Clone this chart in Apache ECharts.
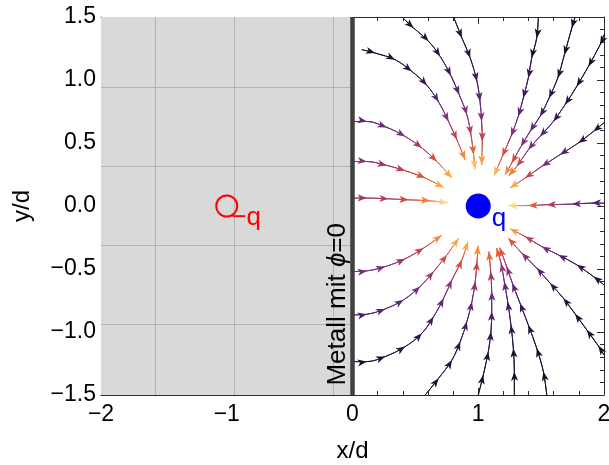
<!DOCTYPE html>
<html>
<head>
<meta charset="utf-8">
<script src="https://cdn.jsdelivr.net/npm/echarts@6/dist/echarts.min.js"></script>
<style>
  html, body { margin: 0; padding: 0; background: #fff; }
  #main { width: 609px; height: 465px; }
</style>
</head>
<body>
<div id="main"></div>
<script>
const xTicks = [-2, -1, 0, 1, 2];
const xTickLabels = ['\u22122', '\u22121', '0', '1', '2'];
const yTicks = [-1.5, -1, -0.5, 0, 0.5, 1, 1.5];
const yTickLabels = ['\u22121.5', '\u22121.0', '\u22120.5', '0.0', '0.5', '1.0', '1.5'];

const chargeQ = [1, 0];
const imageQ = [-1, 0];
const metalGridX = [-1.571, -0.942, -0.157];
const metalGridY = [-0.942, -0.314, 0.314, 0.942];

// stream lines: [x/d, y/d, colour level 0..1]
const lineU1 = [[0.393, 1.500, 0.10], [0.486, 1.413, 0.11], [0.605, 1.307, 0.13], [0.697, 1.187, 0.16], [0.783, 1.034, 0.21], [0.849, 0.883, 0.29], [0.910, 0.724, 0.40], [0.942, 0.566, 0.52], [0.963, 0.407, 0.66], [0.973, 0.290, 0.85]];
const lineL2 = [[0.074, 1.241, 0.10], [0.180, 1.214, 0.10], [0.339, 1.161, 0.12], [0.472, 1.068, 0.15], [0.592, 0.957, 0.20], [0.685, 0.825, 0.28], [0.764, 0.671, 0.40], [0.830, 0.526, 0.55], [0.896, 0.367, 0.74]];
const lineB = [[0.804, 1.500, 0.10], [0.870, 1.334, 0.12], [0.936, 1.175, 0.15], [0.990, 0.989, 0.21], [1.014, 0.830, 0.29], [1.027, 0.671, 0.40], [1.032, 0.512, 0.55], [1.027, 0.327, 0.78]];
const lineW3 = [[0.010, 0.671, 0.30], [0.114, 0.671, 0.30], [0.273, 0.624, 0.33], [0.419, 0.552, 0.38], [0.552, 0.460, 0.47], [0.671, 0.353, 0.60], [0.791, 0.222, 0.80]];
const lineW2 = [[0.010, 0.353, 0.40], [0.114, 0.353, 0.41], [0.273, 0.322, 0.46], [0.419, 0.280, 0.52], [0.578, 0.222, 0.62], [0.725, 0.147, 0.80]];
const lineW1 = [[0.010, 0.063, 0.45], [0.114, 0.063, 0.46], [0.287, 0.057, 0.50], [0.446, 0.049, 0.58], [0.618, 0.041, 0.72], [0.759, 0.025, 0.90]];
const lineR1 = [[1.478, 1.500, 0.07], [1.465, 1.334, 0.09], [1.425, 1.175, 0.12], [1.398, 1.016, 0.16], [1.358, 0.857, 0.22], [1.318, 0.711, 0.30], [1.260, 0.552, 0.42], [1.191, 0.393, 0.60], [1.127, 0.242, 0.82]];
const lineR2 = [[1.770, 1.500, 0.06], [1.744, 1.413, 0.07], [1.685, 1.201, 0.09], [1.632, 1.016, 0.12], [1.563, 0.857, 0.16], [1.491, 0.711, 0.22], [1.412, 0.592, 0.30], [1.340, 0.473, 0.40], [1.266, 0.341, 0.58], [1.213, 0.248, 0.75]];
const lineR3 = [[2.000, 1.360, 0.06], [1.969, 1.280, 0.07], [1.876, 1.108, 0.08], [1.783, 0.949, 0.10], [1.690, 0.804, 0.14], [1.597, 0.671, 0.20], [1.491, 0.552, 0.28], [1.398, 0.446, 0.38], [1.306, 0.314, 0.56], [1.244, 0.240, 0.73]];
const lineR4 = [[2.000, 0.661, 0.10], [1.916, 0.592, 0.13], [1.796, 0.500, 0.18], [1.650, 0.407, 0.27], [1.505, 0.314, 0.38], [1.372, 0.222, 0.56], [1.252, 0.142, 0.80]];
const lineR5 = [[2.000, 0.023, 0.22], [1.903, 0.023, 0.27], [1.744, 0.015, 0.35], [1.545, 0.010, 0.50], [1.398, 0.004, 0.65], [1.236, 0.002, 0.90]];
const lineD1 = [[0.010, -0.520, 0.35], [0.114, -0.515, 0.36], [0.260, -0.481, 0.39], [0.419, -0.419, 0.45], [0.565, -0.334, 0.55], [0.710, -0.233, 0.75]];
const lineD2 = [[0.010, -0.864, 0.24], [0.114, -0.859, 0.25], [0.260, -0.817, 0.28], [0.406, -0.745, 0.31], [0.538, -0.639, 0.38], [0.645, -0.520, 0.46], [0.751, -0.388, 0.60], [0.844, -0.255, 0.80]];
const lineD3 = [[0.010, -1.235, 0.10], [0.114, -1.235, 0.11], [0.260, -1.195, 0.12], [0.419, -1.116, 0.15], [0.552, -1.010, 0.18], [0.645, -0.878, 0.23], [0.725, -0.732, 0.32], [0.791, -0.586, 0.43], [0.870, -0.427, 0.60], [0.918, -0.284, 0.80]];
const lineD4 = [[0.578, -1.500, 0.09], [0.685, -1.367, 0.11], [0.791, -1.222, 0.13], [0.857, -1.076, 0.17], [0.910, -0.917, 0.23], [0.950, -0.759, 0.31], [0.976, -0.600, 0.42], [0.990, -0.441, 0.57], [0.998, -0.316, 0.75]];
const lineE1 = [[1.000, -1.500, 0.08], [1.040, -1.341, 0.10], [1.080, -1.156, 0.13], [1.101, -0.997, 0.18], [1.107, -0.838, 0.25], [1.107, -0.679, 0.34], [1.099, -0.520, 0.47], [1.085, -0.361, 0.67]];
const lineE2 = [[1.287, -1.500, 0.07], [1.287, -1.315, 0.08], [1.279, -1.129, 0.11], [1.260, -0.944, 0.16], [1.234, -0.759, 0.23], [1.207, -0.600, 0.33], [1.181, -0.454, 0.45], [1.146, -0.334, 0.65]];
const lineE3 = [[1.545, -1.500, 0.06], [1.518, -1.315, 0.07], [1.465, -1.129, 0.09], [1.398, -0.944, 0.13], [1.332, -0.771, 0.20], [1.271, -0.612, 0.30], [1.226, -0.481, 0.42], [1.170, -0.330, 0.62]];
const lineE4 = [[2.000, -0.626, 0.10], [1.916, -0.560, 0.12], [1.783, -0.467, 0.17], [1.637, -0.388, 0.26], [1.505, -0.322, 0.36], [1.372, -0.242, 0.53], [1.252, -0.181, 0.78]];
const lineE5 = [[2.000, -1.182, 0.05], [1.955, -1.110, 0.06], [1.863, -0.983, 0.07], [1.770, -0.856, 0.09], [1.677, -0.732, 0.13], [1.571, -0.612, 0.18], [1.465, -0.493, 0.27], [1.346, -0.374, 0.40], [1.239, -0.255, 0.62]];

const streams = [lineU1, lineL2, lineB, lineW3, lineW2, lineW1, lineR1, lineR2, lineR3, lineR4, lineR5,
  lineD1, lineD2, lineD3, lineD4, lineE1, lineE2, lineE3, lineE4, lineE5];

const metalLabelAt = [-0.115, -0.78];

const FONT = "'Liberation Sans', Arial, sans-serif";
const frameColor = '#2b2b2b';

// black -> purple -> red -> orange -> pale yellow
const sunset = [
  [0.00, [10, 4, 16]], [0.10, [30, 14, 46]], [0.20, [58, 24, 88]], [0.30, [90, 40, 120]],
  [0.40, [130, 48, 122]], [0.50, [176, 60, 94]], [0.60, [216, 76, 60]], [0.70, [240, 112, 42]],
  [0.80, [252, 165, 69]], [0.90, [255, 216, 144]], [1.00, [255, 244, 228]]
];
function levelColor(t) {
  t = Math.max(0, Math.min(1, t));
  for (let i = 1; i < sunset.length; i++) {
    if (t <= sunset[i][0]) {
      const a = sunset[i - 1], b = sunset[i];
      const f = (t - a[0]) / (b[0] - a[0]);
      const c = a[1].map((v, k) => Math.round(v + (b[1][k] - v) * f));
      return 'rgb(' + c.join(',') + ')';
    }
  }
  return 'rgb(255,244,228)';
}

function arrowAngle(pts, i) {
  const a = pts[Math.max(i - 1, 0)];
  const b = pts[Math.min(i + 1, pts.length - 1)];
  return Math.atan2(b[1] - a[1], b[0] - a[0]) * 180 / Math.PI - 90;
}

function tickLabel(list, labels) {
  return v => {
    const i = list.findIndex(t => Math.abs(t - v) < 1e-6);
    return i < 0 ? '' : labels[i];
  };
}

const streamSeries = streams.map(pts => ({
  type: 'line',
  smooth: 0.35,
  silent: true,
  animation: false,
  showAllSymbol: true,
  z: 3,
  lineStyle: { width: 1, color: levelColor(pts[pts.length - 1][2]) },
  data: pts.map((p, i) => ({
    value: [p[0], p[1]],
    symbol: i === 0 ? 'none' : 'arrow',
    symbolSize: [5.3, 9.2],
    symbolRotate: arrowAngle(pts, i),
    itemStyle: { color: levelColor(p[2]), borderWidth: 0 }
  }))
}));

const gridLines = [];
metalGridX.forEach(x => gridLines.push([{ coord: [x, -1.5] }, { coord: [x, 1.5] }]));
metalGridY.forEach(y => gridLines.push([{ coord: [-2, y] }, { coord: [0, y] }]));

const axisCommon = {
  type: 'value',
  axisLine: { show: true, onZero: false, lineStyle: { color: frameColor, width: 1 } },
  axisTick: { show: true, inside: true, length: 7, lineStyle: { color: frameColor } },
  minorTick: { show: true, splitNumber: 5, length: 4, lineStyle: { color: frameColor } },
  splitLine: { show: false },
  minorSplitLine: { show: false }
};

const option = {
  backgroundColor: '#fff',
  animation: false,
  grid: { left: 101, right: 5, top: 17, bottom: 70, containLabel: false, outerBoundsMode: 'none' },
  xAxis: [
    Object.assign({}, axisCommon, {
      min: -2, max: 2, interval: 1, position: 'bottom',
      axisLabel: { fontSize: 23, margin: 8, color: '#000', fontFamily: FONT, formatter: tickLabel(xTicks, xTickLabels) },
      name: 'x/d', nameLocation: 'middle', nameGap: 44,
      nameTextStyle: { fontSize: 24, color: '#000', fontFamily: FONT }
    }),
    Object.assign({}, axisCommon, {
      min: -2, max: 2, interval: 1, position: 'top', axisLabel: { show: false }
    })
  ],
  yAxis: [
    Object.assign({}, axisCommon, {
      min: -1.5, max: 1.5, interval: 0.5, position: 'left',
      axisLabel: { fontSize: 23, margin: 5, color: '#000', fontFamily: FONT, formatter: tickLabel(yTicks, yTickLabels) },
      name: 'y/d', nameLocation: 'middle', nameGap: 67,
      nameTextStyle: { fontSize: 24, color: '#000', fontFamily: FONT }
    }),
    Object.assign({}, axisCommon, {
      min: -1.5, max: 1.5, interval: 0.5, position: 'right', axisLabel: { show: false }
    })
  ],
  series: streamSeries.concat([
    {
      type: 'line',
      data: [],
      silent: true,
      z: 1,
      markArea: {
        silent: true,
        itemStyle: { color: '#d9d9d9' },
        data: [[{ coord: [-2, -1.5] }, { coord: [0, 1.5] }]]
      },
      markLine: {
        silent: true,
        symbol: 'none',
        animation: false,
        label: { show: false },
        lineStyle: { color: '#b3b3b3', width: 1, type: 'solid' },
        data: gridLines
      }
    },
    {
      type: 'line',
      data: [],
      silent: true,
      z: 4,
      markLine: {
        silent: true,
        symbol: 'none',
        animation: false,
        label: { show: false },
        lineStyle: { color: '#404040', width: 4.5, type: 'solid' },
        data: [[{ coord: [0, -1.5] }, { coord: [0, 1.5] }]]
      }
    },
    {
      type: 'scatter',
      silent: true,
      z: 5,
      symbolSize: 25,
      itemStyle: { color: '#0000ff', opacity: 1 },
      label: {
        show: true, formatter: 'q', position: [26, 25], align: 'left', verticalAlign: 'middle',
        color: '#0000ff', fontSize: 26, fontFamily: FONT
      },
      data: [chargeQ]
    },
    {
      type: 'scatter',
      silent: true,
      z: 5,
      symbolSize: 21,
      itemStyle: { color: 'rgba(0,0,0,0)', borderColor: '#ff0000', borderWidth: 2, opacity: 1 },
      label: {
        show: true, formatter: '\u2212q', position: [16, 23], align: 'left', verticalAlign: 'middle',
        color: '#ff0000', fontSize: 26, fontFamily: FONT
      },
      data: [imageQ]
    }
  ])
};

const chart = echarts.init(document.getElementById('main'), null, { renderer: 'canvas' });
chart.setOption(option);

// colour each stream line along its length, in pixel space
const gradSeries = streams.map(pts => {
  const px = pts.map(p => chart.convertToPixel({ gridIndex: 0 }, [p[0], p[1]]));
  const p0 = px[0], pn = px[px.length - 1];
  const vx = pn[0] - p0[0], vy = pn[1] - p0[1];
  const vv = vx * vx + vy * vy;
  const stops = [];
  let last = -1;
  px.forEach((q, i) => {
    let t = ((q[0] - p0[0]) * vx + (q[1] - p0[1]) * vy) / vv;
    t = Math.max(0, Math.min(1, t));
    if (t >= last) {
      stops.push({ offset: t, color: levelColor(pts[i][2]) });
      last = t;
    }
  });
  return {
    lineStyle: {
      color: { type: 'linear', x: p0[0], y: p0[1], x2: pn[0], y2: pn[1], global: true, colorStops: stops }
    }
  };
});

const lp = chart.convertToPixel({ gridIndex: 0 }, metalLabelAt);
chart.setOption({
  series: gradSeries,
  graphic: [{
    type: 'text',
    x: lp[0],
    y: lp[1],
    rotation: Math.PI / 2,
    z: 10,
    silent: true,
    style: {
      text: 'Metall mit {i|\u03d5}=0',
      fill: '#000',
      font: '26px ' + FONT,
      align: 'center',
      verticalAlign: 'middle',
      rich: { i: { fontStyle: 'italic', fontSize: 26, fontFamily: FONT, fill: '#000' } }
    }
  }]
});
</script>
</body>
</html>
